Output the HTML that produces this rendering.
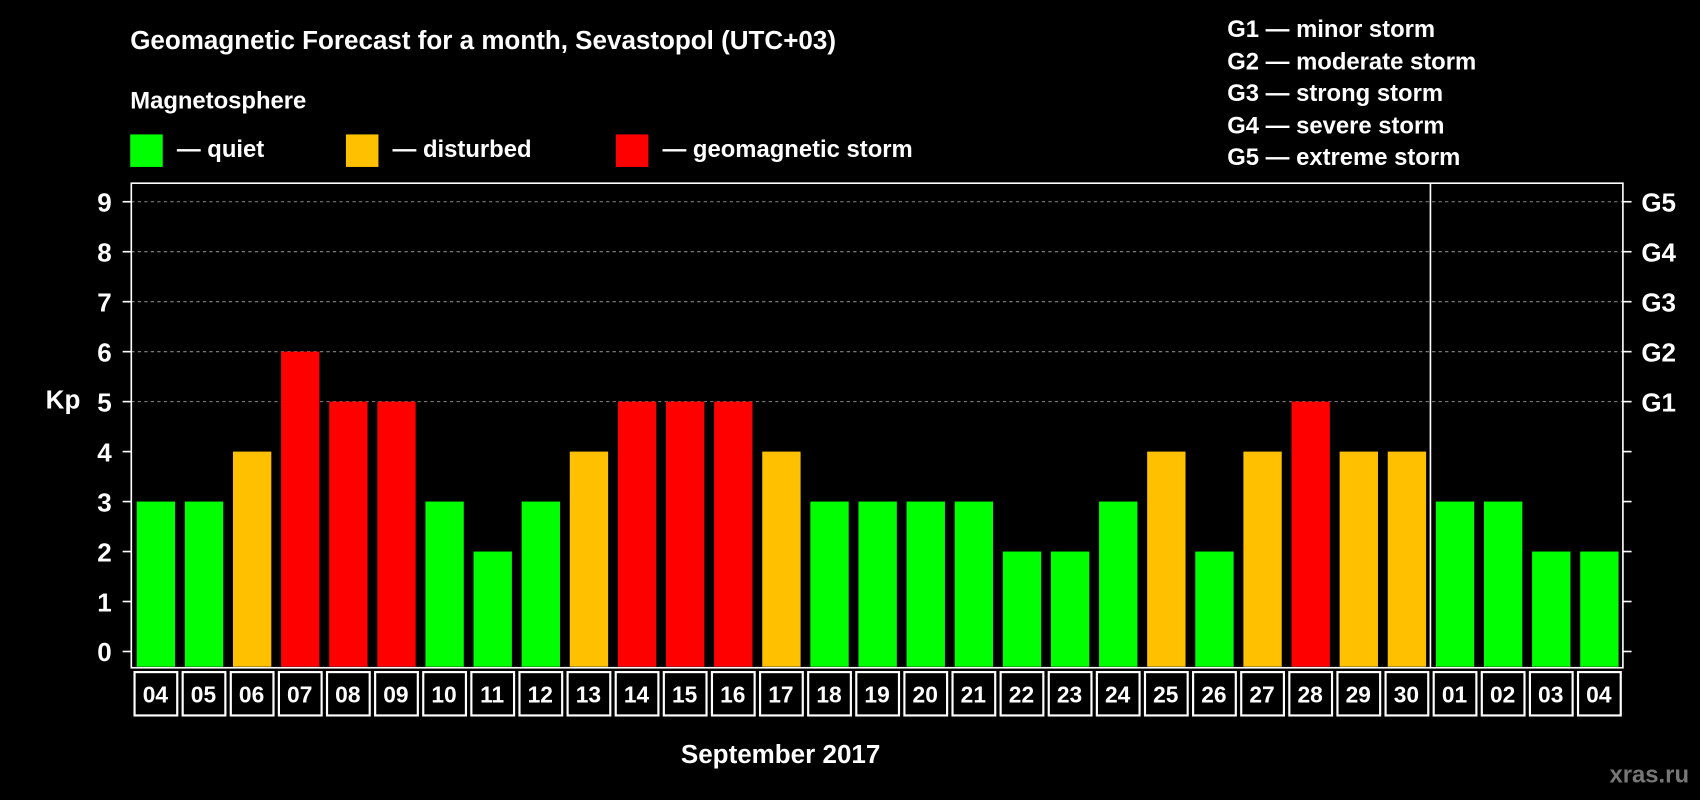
<!DOCTYPE html>
<html><head><meta charset="utf-8"><style>
html,body{margin:0;padding:0;background:#000;width:1700px;height:800px;overflow:hidden}
svg{display:block}
text{font-family:"Liberation Sans",sans-serif;font-weight:bold;fill:#fff}
</style></head><body>
<svg id="chart" width="1700" height="800" viewBox="0 0 1568 738" xmlns="http://www.w3.org/2000/svg">
<text x="120" y="45" font-size="24">Geomagnetic Forecast for a month, Sevastopol (UTC+03)</text>
<text x="120" y="100" font-size="22">Magnetosphere</text>
<g><rect x="120" y="124" width="30" height="30" fill="#00ff00"/><text x="163" y="145" font-size="22">— quiet</text></g>
<g><rect x="319" y="124" width="30" height="30" fill="#ffc000"/><text x="362" y="145" font-size="22">— disturbed</text></g>
<g><rect x="568" y="124" width="30" height="30" fill="#ff0000"/><text x="611" y="145" font-size="22">— geomagnetic storm</text></g>
<g font-size="22">
<text x="1132" y="34">G1 — minor storm</text>
<text x="1132" y="64">G2 — moderate storm</text>
<text x="1132" y="93">G3 — strong storm</text>
<text x="1132" y="123">G4 — severe storm</text>
<text x="1132" y="152">G5 — extreme storm</text>
</g>
<text x="58" y="377" font-size="24" text-anchor="middle">Kp</text>
<text x="720" y="704" font-size="24" text-anchor="middle">September 2017</text>
<text x="1558" y="722" font-size="22" text-anchor="end" style="fill:#777">xras.ru</text>
<g id="grid"></g><g id="bars"></g><g id="axes"></g><g id="labels"></g>
</svg>
<script>
const days=["04","05","06","07","08","09","10","11","12","13","14","15","16","17","18","19","20","21","22","23","24","25","26","27","28","29","30","01","02","03","04"];
const kp=[3,3,4,6,5,5,3,2,3,4,5,5,5,4,3,3,3,3,2,2,3,4,2,4,5,4,4,3,3,2,2];
const yTicks=[0,1,2,3,4,5,6,7,8,9];
const gLabels=["G1","G2","G3","G4","G5"];
const gLevels=[5,6,7,8,9];
const NS="http://www.w3.org/2000/svg";
const L=121,R=1497,T=169,B=616;
const slot=(R-L)/days.length;
const y=v=>601-v*46.1;
const x=i=>L+i*slot;
function mk(tag,attrs,parent){const e=document.createElementNS(NS,tag);for(const k in attrs)e.setAttribute(k,attrs[k]);document.getElementById(parent).appendChild(e);return e;}
gLevels.forEach(v=>{const e=mk('line',{x1:L,x2:R,y1:y(v),y2:y(v),stroke:'#888','stroke-dasharray':'3,3'},'grid');

});
kp.forEach((v,i)=>{const c=v>=5?'#ff0000':v>=4?'#ffc000':'#00ff00';
const e=mk('rect',{x:x(i)+5,y:y(v),width:slot-9,height:y(0)-y(v)+14,fill:c},'bars');


const b=mk('rect',{x:x(i)+3,y:620,width:slot-5,height:40,fill:'none',stroke:'#fff','stroke-width':2},'labels');


const t=mk('text',{x:x(i)+slot/2,y:648,'font-size':21,'text-anchor':'middle'},'labels');t.textContent=days[i];

});
const f=mk('rect',{x:L,y:T,width:R-L,height:B-T,fill:'none',stroke:'#fff','stroke-width':1.5},'axes');


const d=mk('line',{x1:x(27),x2:x(27),y1:T,y2:B,stroke:'#fff','stroke-width':1.5},'axes');


yTicks.forEach(v=>{mk('line',{x1:L-8,x2:L,y1:y(v),y2:y(v),stroke:'#fff','stroke-width':1.5},'axes');
mk('line',{x1:R,x2:R+8,y1:y(v),y2:y(v),stroke:'#fff','stroke-width':1.5},'axes');
const t=mk('text',{x:103,y:y(v)+9,'font-size':24,'text-anchor':'end'},'axes');t.textContent=v;

});
gLevels.forEach((v,i)=>{const t=mk('text',{x:1514,y:y(v)+9,'font-size':24},'axes');t.textContent=gLabels[i];

});
</script>
</body></html>
